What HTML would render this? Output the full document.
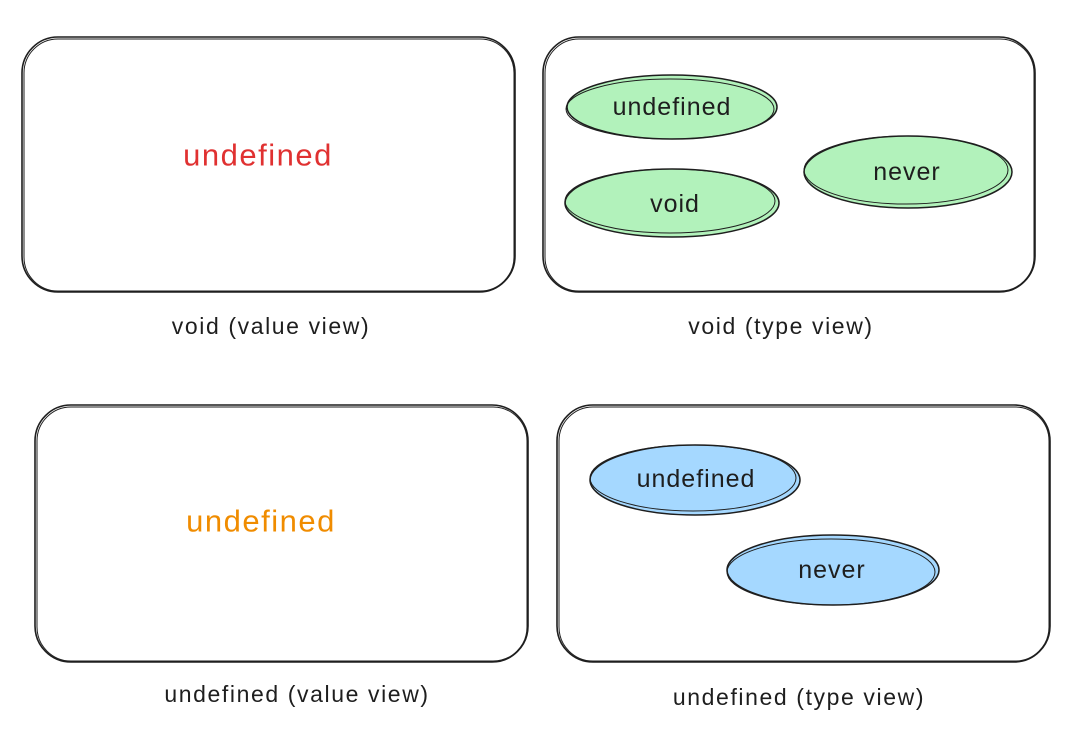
<!DOCTYPE html>
<html><head><meta charset="utf-8"><style>
html,body{margin:0;padding:0;background:#fff;}
svg{display:block;}
text{font-family:"Liberation Sans","DejaVu Sans",sans-serif;fill:#1e1e1e;text-anchor:middle;dominant-baseline:central;}
.cap{font-size:23px;letter-spacing:1.6px;}
.in{font-size:25px;letter-spacing:1px;}
</style></head><body>
<svg width="1076" height="732" viewBox="0 0 1076 732" xmlns="http://www.w3.org/2000/svg">
<g fill="none" stroke="#1e1e1e" stroke-width="1.6">
<rect x="22" y="37" width="493" height="255" rx="36"/>
<rect x="24" y="39" width="490" height="252" rx="34" stroke-width="1"/>
<rect x="543" y="37" width="492" height="255" rx="36"/>
<rect x="545" y="39" width="489" height="252" rx="34" stroke-width="1"/>
<rect x="35" y="405" width="493" height="257" rx="36"/>
<rect x="37" y="407" width="490" height="254" rx="34" stroke-width="1"/>
<rect x="557" y="405" width="493" height="257" rx="36"/>
<rect x="559" y="407" width="490" height="254" rx="34" stroke-width="1"/>
</g>
<g stroke="#1e1e1e" stroke-width="1.5">
<ellipse cx="672" cy="107" rx="105" ry="32" fill="#b2f2bb"/>
<ellipse cx="670" cy="109" rx="104" ry="30" fill="none" stroke-width="1"/>
<ellipse cx="672" cy="203" rx="107" ry="34" fill="#b2f2bb"/>
<ellipse cx="670" cy="201" rx="105" ry="32" fill="none" stroke-width="1"/>
<ellipse cx="908" cy="172" rx="104" ry="36" fill="#b2f2bb"/>
<ellipse cx="906" cy="170" rx="102" ry="34" fill="none" stroke-width="1"/>
<ellipse cx="695" cy="480" rx="105" ry="35" fill="#a5d8ff"/>
<ellipse cx="693" cy="478" rx="103" ry="33" fill="none" stroke-width="1"/>
<ellipse cx="833" cy="570" rx="106" ry="35" fill="#a5d8ff"/>
<ellipse cx="831" cy="572" rx="104" ry="33" fill="none" stroke-width="1"/>
</g>
<text x="258" y="155" font-size="31" letter-spacing="1.5" style="fill:#e03131">undefined</text>
<text x="261" y="521" font-size="31" letter-spacing="1.5" style="fill:#f08c00">undefined</text>
<text class="in" x="672" y="107">undefined</text>
<text class="in" x="675" y="204">void</text>
<text class="in" x="907" y="172">never</text>
<text class="in" x="696" y="479">undefined</text>
<text class="in" x="832" y="570">never</text>
<text class="cap" x="271" y="326">void (value view)</text>
<text class="cap" x="781" y="326">void (type view)</text>
<text class="cap" x="297" y="694">undefined (value view)</text>
<text class="cap" x="799" y="697">undefined (type view)</text>
</svg>
</body></html>
